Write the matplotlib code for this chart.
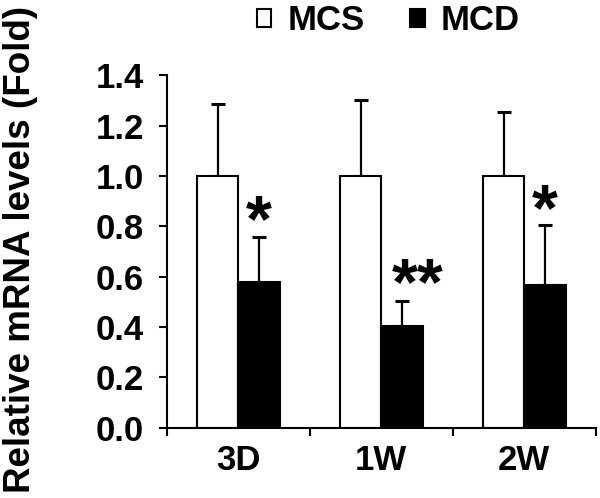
import matplotlib
matplotlib.use("Agg")
import matplotlib.pyplot as plt
import numpy as np

categories = ["3D", "1W", "2W"]
mcs_values = [1.0, 1.0, 1.0]
mcs_err = [0.285, 0.30, 0.255]
mcd_values = [0.58, 0.405, 0.566]
mcd_err = [0.178, 0.10, 0.239]
signif = ["*", "**", "*"]
signif_y = [0.81, 0.557, 0.852]
yticks = [0.0, 0.2, 0.4, 0.6, 0.8, 1.0, 1.2, 1.4]

plt.rcParams['font.family'] = ['Liberation Sans', 'DejaVu Sans']
plt.rcParams['font.weight'] = 'bold'

fig = plt.figure(figsize=(6.0, 4.98), dpi=100)
ax = fig.add_axes([0.278, 0.141, 0.715, 0.708])

x = np.arange(len(categories))
w = 0.29
lw = 1.5
b1 = ax.bar(x - w/2, mcs_values, w, color='white', edgecolor='black', linewidth=lw, label='MCS', zorder=2)
b2 = ax.bar(x + w/2, mcd_values, w, color='black', edgecolor='black', linewidth=lw, label='MCD', zorder=2)
ax.errorbar(x - w/2, mcs_values, yerr=[np.zeros(3), mcs_err], fmt='none', ecolor='black',
            elinewidth=1.6, capsize=4.7, capthick=2.2, zorder=1)
ax.errorbar(x + w/2, mcd_values, yerr=[np.zeros(3), mcd_err], fmt='none', ecolor='black',
            elinewidth=1.6, capsize=4.7, capthick=2.2, zorder=1)

offs = [0.0, 0.11, 0.0]
for i, (s, yy) in enumerate(zip(signif, signif_y)):
    ax.text(x[i] + w/2 + offs[i], yy, s, ha='center', va='center', fontsize=48, fontweight='bold')

ax.set_xlim(-0.5, 2.5)
ax.set_ylim(0, 1.4)
ax.set_yticks(yticks)
ax.set_yticklabels([f"{v:.1f}" for v in yticks], fontsize=25, fontweight='bold')
ax.set_xticks([-0.5, 0.5, 1.5, 2.5])
ax.set_xticklabels([])
ax.set_xticks(x, minor=True)
ax.set_xticklabels(categories, minor=True, fontsize=25, fontweight='bold')
ax.tick_params(axis='x', which='minor', length=0, pad=12)
ax.tick_params(axis='x', which='major', length=6, width=1.5, direction='out')
ax.tick_params(axis='y', length=6, width=1.5, direction='out', pad=10.5)
for sp in ['top', 'right']:
    ax.spines[sp].set_visible(False)
for sp in ['left', 'bottom']:
    ax.spines[sp].set_linewidth(1.5)

fig.text(0.035, 0.5, "Relative mRNA levels (Fold)", rotation=90, ha='center', va='center',
         fontsize=26.5, fontweight='bold')

leg = fig.legend(handles=[b1, b2], loc='center', bbox_to_anchor=(0.6475, 0.958), ncol=2,
                 frameon=False, prop={'size': 25, 'weight': 'bold'},
                 handlelength=0.42, handleheight=0.42,
                 handletextpad=0.47, columnspacing=1.3, borderpad=0)

fig.savefig("out.png", dpi=100)
